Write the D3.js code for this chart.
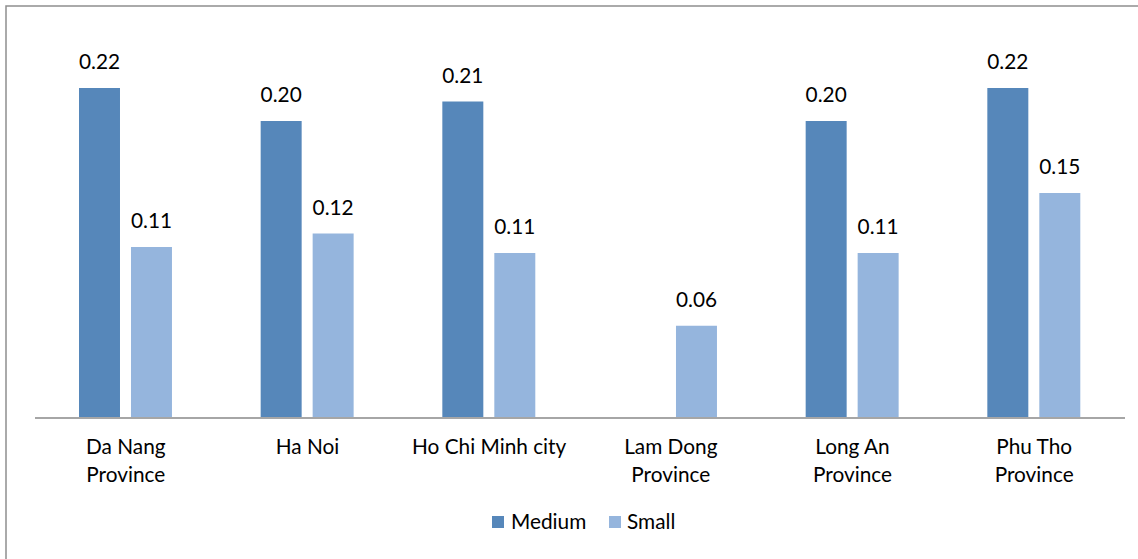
<!DOCTYPE html>
<html><head><meta charset="utf-8">
<script src="https://cdn.jsdelivr.net/npm/d3@7"></script>
<style>body{margin:0;background:#fff}svg{display:block}</style>
</head><body>
<script>
const categories = [["Da Nang","Province"],["Ha Noi"],["Ho Chi Minh city"],["Lam Dong","Province"],["Long An","Province"],["Phu Tho","Province"]];
const seriesNames = ["Medium","Small"];
const medium = [0.220, 0.198, 0.211, null, 0.198, 0.220];
const small = [0.114, 0.123, 0.110, 0.0615, 0.110, 0.150];
const labelsMedium = ["0.22","0.20","0.21","","0.20","0.22"];
const labelsSmall = ["0.11","0.12","0.11","0.06","0.11","0.15"];
const colors = ["#5687BA","#95B5DD"];

(function(){
const W = 1138, H = 559;
const font = "Lato, 'Carlito', Calibri, sans-serif";
const fs = 20.8;
const svg = d3.select("body").append("svg").attr("width", W).attr("height", H);
svg.append("rect").attr("x",0).attr("y",0).attr("width",W).attr("height",H).attr("fill","#fff");
// frame
svg.append("rect").attr("x",6).attr("y",6).attr("width",W+20).attr("height",H+20)
  .attr("fill","none").attr("stroke","#8e8e8e").attr("stroke-width",1.5);

const plotLeft = 35, plotRight = 1125, plotTop = 43, base = 418;
const x = d3.scaleBand().domain(d3.range(categories.length)).range([plotLeft, plotRight]).paddingInner(0).paddingOuter(0);
const inner = d3.scaleBand().domain([0,1]).range([44, x.bandwidth()-44.7]).paddingInner(11/52);
const y = d3.scaleLinear().domain([0, 0.25]).range([base, plotTop]);

const data = [medium, small];
const labels = [labelsMedium, labelsSmall];
data.forEach((vals, si) => {
  const g = svg.append("g");
  vals.forEach((v, i) => {
    if (v == null) return;
    const bx = x(i) + inner(si);
    g.append("rect").attr("x", bx).attr("y", y(v)).attr("width", inner.bandwidth())
      .attr("height", base - y(v)).attr("fill", colors[si]);
    g.append("text").attr("x", bx + inner.bandwidth()/2).attr("y", y(v) - 19)
      .attr("text-anchor","middle").attr("font-family",font).attr("font-size",fs)
      .attr("fill","#000").text(labels[si][i]);
  });
});
// baseline
svg.append("line").attr("x1",plotLeft).attr("x2",plotRight).attr("y1",base).attr("y2",base)
  .attr("stroke","#a6a6a6").attr("stroke-width",2);

// category labels
categories.forEach((lines, i) => {
  const t = svg.append("text").attr("text-anchor","middle").attr("font-family",font)
    .attr("font-size",fs).attr("fill","#000");
  lines.forEach((ln, k) => {
    t.append("tspan").attr("x", x(i) + x.bandwidth()/2).attr("y", 454 + k*28).text(ln);
  });
});

// legend
const leg = [{name: seriesNames[0], sx: 492, tx: 511}, {name: seriesNames[1], sx: 609, tx: 627}];
leg.forEach((d, i) => {
  svg.append("rect").attr("x", d.sx).attr("y", 516).attr("width", 12).attr("height", 12).attr("fill", colors[i]);
  svg.append("text").attr("x", d.tx).attr("y", 529).attr("font-family",font).attr("font-size",fs)
    .attr("fill","#000").text(d.name);
});
})();
</script>
</body></html>
